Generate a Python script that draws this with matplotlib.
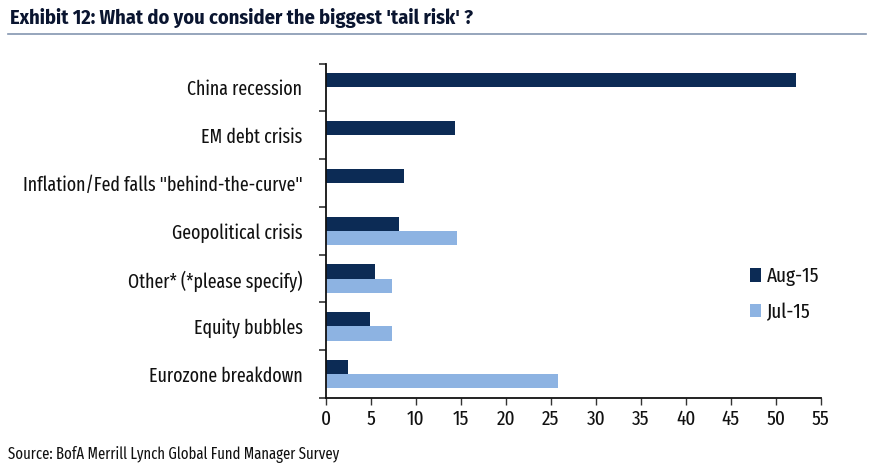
import numpy as np
import matplotlib.pyplot as plt
from matplotlib.ticker import FixedLocator

plt.rcParams['font.family'] = ['Fira Sans Extra Condensed', 'Roboto Condensed', 'DejaVu Sans']

# data
categories = ['China recession', 'EM debt crisis', 'Inflation/Fed falls "behind-the-curve"',
              'Geopolitical crisis', 'Other* (*please specify)', 'Equity bubbles',
              'Eurozone breakdown']
aug15 = [52.3, 14.3, 8.7, 8.1, 5.5, 4.9, 2.5]
jul15 = [0, 0, 0, 14.6, 7.3, 7.3, 25.8]
x_ticks = list(range(0, 60, 5))

dark = '#0c2b55'
light = '#8db3e2'
txt = '#111111'

fig = plt.figure(figsize=(8.74, 4.71), dpi=100)
ax = fig.add_axes([0.373, 0.155, 0.566, 0.710])

n = len(categories)
pos = np.arange(n)[::-1]
h = 0.297
ax.barh(pos + h / 2, aug15, height=h, color=dark, label='Aug-15')
ax.barh(pos - h / 2, jul15, height=h, color=light, label='Jul-15')

ax.set_xlim(0, 55)
ax.set_ylim(-0.5, n - 0.5)
ax.set_xticks(x_ticks)
ax.set_yticks(pos)
ax.set_yticklabels(categories)
ax.yaxis.set_minor_locator(FixedLocator(np.arange(-0.5, n, 1.0)))
ax.tick_params(axis='y', which='major', length=0, pad=17, labelsize=14, labelcolor=txt)
ax.tick_params(axis='y', which='minor', length=5, width=1.2, color='#333333')
ax.tick_params(axis='x', length=5, width=1, color='#333333', labelsize=15,
               labelcolor=txt, pad=3)

for s in ['top', 'right']:
    ax.spines[s].set_visible(False)
for s in ['left', 'bottom']:
    ax.spines[s].set_color('#111111')
    ax.spines[s].set_linewidth(1.3)

leg = ax.legend(loc='center left', bbox_to_anchor=(0.82, 0.31), frameon=False,
                fontsize=15, handlelength=0.5, handleheight=0.6,
                handletextpad=0.3, labelspacing=0.75)
for t in leg.get_texts():
    t.set_color(txt)

fig.text(0.011, 0.962, "Exhibit 12: What do you consider the biggest 'tail risk' ?",
         family=['Fira Sans Condensed', 'DejaVu Sans'], fontsize=14.6, fontweight='bold',
         color='#0a1530', va='center', ha='left')
fig.add_artist(plt.Line2D([0.009, 0.991], [0.928, 0.928], color='#8496b0', lw=1.2))
fig.text(0.009, 0.034, 'Source: BofA Merrill Lynch Global Fund Manager Survey',
         fontsize=11.5, color=txt, va='center', ha='left')

fig.savefig('out.png', dpi=100)
